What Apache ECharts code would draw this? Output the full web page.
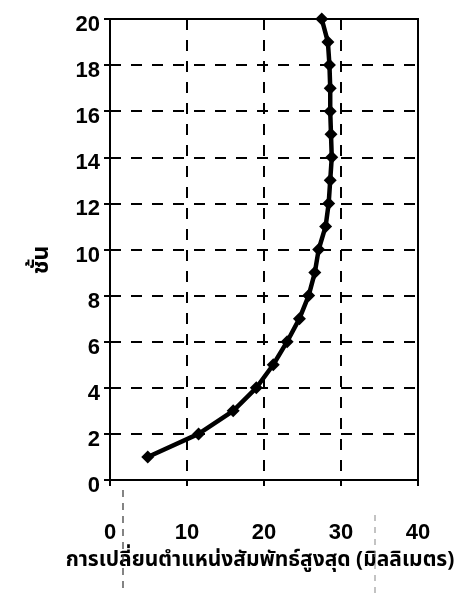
<!DOCTYPE html>
<html>
<head>
<meta charset="utf-8">
<script src="https://cdn.jsdelivr.net/npm/echarts@6/dist/echarts.min.js"></script>
<style>
  html, body { margin: 0; padding: 0; background: #fff; }
  #chart { width: 462px; height: 594px; }
</style>
</head>
<body>
<div id="chart"></div>
<script>
// Floor numbers and peak relative displacement (mm) per floor
const floors = [1, 2, 3, 4, 5, 6, 7, 8, 9, 10, 11, 12, 13, 14, 15, 16, 17, 18, 19, 20];
const drift = [4.9, 11.5, 16.0, 19.0, 21.2, 23.0, 24.6, 25.8, 26.6, 27.1, 28.0, 28.4, 28.6, 28.8, 28.7, 28.6, 28.6, 28.5, 28.3, 27.5];

const xTitle = 'การเปลี่ยนตำแหน่งสัมพัทธ์สูงสุด (มิลลิเมตร)';
const yTitle = 'ชั้น';

const points = floors.map((f, i) => [drift[i], f]);

const labelFont = 'Liberation Sans, Arial, sans-serif';
const thaiFont = '"Noto Sans Thai", "Noto Sans Thai UI", Loma, Garuda, Tahoma, sans-serif';
const dashed = { color: '#000', width: 2, type: [11, 10] };

const chart = echarts.init(document.getElementById('chart'), null, { renderer: 'canvas' });
chart.setOption({
  animation: false,
  backgroundColor: '#fff',
  grid: {
    left: 110, right: 44, top: 19, bottom: 114,
    show: true, borderColor: '#000', borderWidth: 2, backgroundColor: 'transparent'
  },
  xAxis: {
    type: 'value', min: 0, max: 40, interval: 10,
    axisLine: { lineStyle: { color: '#000', width: 2 } },
    axisTick: { show: true, length: 6, lineStyle: { color: '#000', width: 2 } },
    axisLabel: { color: '#000', fontSize: 22, fontWeight: 'bold', fontFamily: labelFont, margin: 42 },
    splitLine: { show: true, showMinLine: false, showMaxLine: false, lineStyle: dashed }
  },
  yAxis: {
    type: 'value', min: 0, max: 20, interval: 2,
    axisLine: { lineStyle: { color: '#000', width: 2 } },
    axisTick: { show: true, length: 6, lineStyle: { color: '#000', width: 2 } },
    axisLabel: {
      margin: 10,
      formatter: '{v|{value}}',
      rich: { v: { color: '#000', fontSize: 22, fontWeight: 'bold', fontFamily: labelFont, padding: [12, 0, 0, 0] } }
    },
    splitLine: { show: true, showMinLine: false, showMaxLine: false, lineStyle: dashed }
  },
  series: [{
    type: 'line',
    data: points,
    symbol: 'diamond',
    symbolSize: 13,
    itemStyle: { color: '#000' },
    lineStyle: { color: '#000', width: 4.5 },
    z: 5
  }],
  graphic: [
    {
      type: 'text', x: 260, y: 562,
      style: { text: xTitle, font: 'bold 21px ' + thaiFont, fill: '#000', align: 'center', verticalAlign: 'middle' }
    },
    {
      type: 'text', x: 43, y: 260, rotation: Math.PI / 2,
      style: { text: yTitle, font: 'bold 23px ' + thaiFont, fill: '#000', align: 'center', verticalAlign: 'middle' }
    },
    // faint page crease lines running down below the plot
    {
      type: 'line', shape: { x1: 123, y1: 490, x2: 123, y2: 594 },
      style: { stroke: '#333', lineWidth: 1.2, lineDash: [7, 6] }
    },
    {
      type: 'line', shape: { x1: 375, y1: 515, x2: 375, y2: 594 },
      style: { stroke: '#888', lineWidth: 1, lineDash: [6, 6] }
    }
  ]
});
</script>
</body>
</html>
